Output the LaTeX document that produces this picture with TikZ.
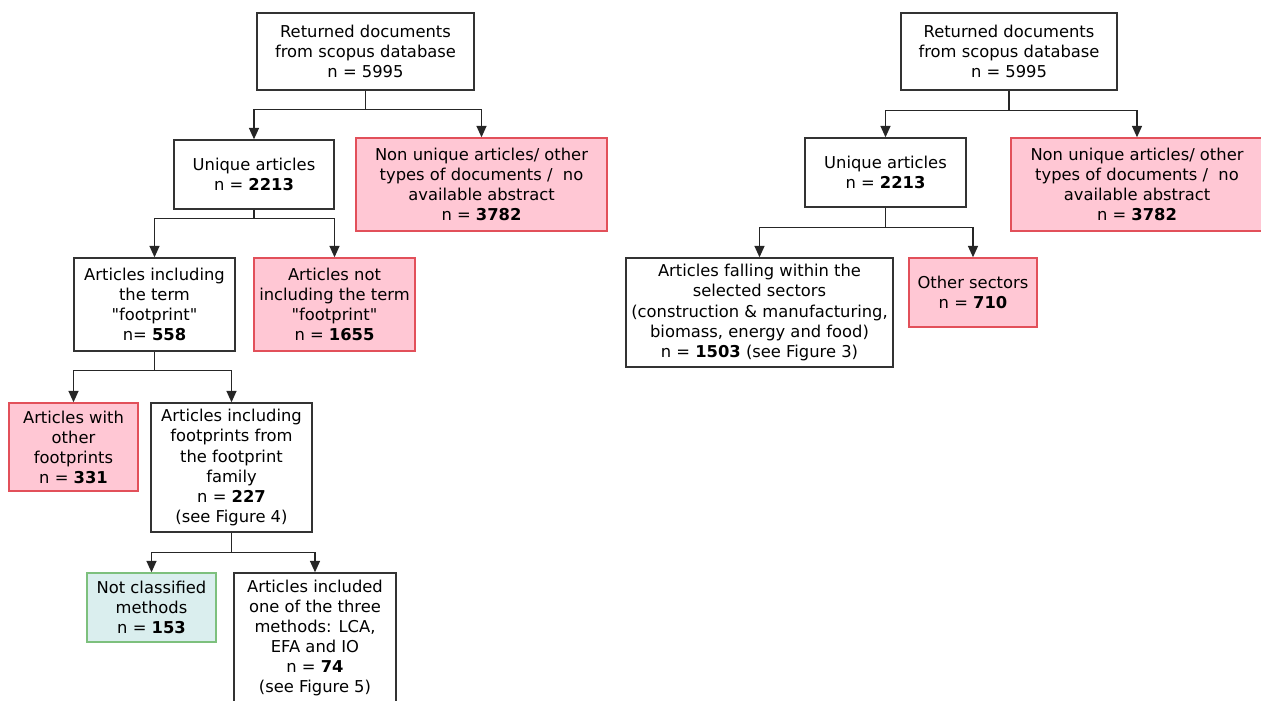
\documentclass[tikz,border=0pt]{standalone}
\usepackage{fontspec}
\setmainfont{DejaVu Sans}
\usetikzlibrary{arrows.meta}
\definecolor{badfill}{RGB}{255,199,212}
\definecolor{baddraw}{RGB}{226,80,90}
\definecolor{okfill}{RGB}{218,238,238}
\definecolor{okdraw}{RGB}{125,192,125}

\begin{document}
\begin{tikzpicture}[x=0.02cm, y=-0.02cm,
  box/.style={draw=black!80, line width=0.8pt, fill=white, align=center,
    inner sep=0pt, font=\fontsize{9.3}{11.4}\selectfont},
  outbox/.style={box, draw=baddraw, fill=badfill},
  greenbox/.style={box, draw=okdraw, fill=okfill},
  link/.style={line width=0.9pt, draw=black!85,
    -{Triangle[length=0.23cm, width=0.2cm]}}]
  \useasboundingbox (0,0) rectangle (1261,700);
  \clip (0,0) rectangle (1261,700);

  % left tree
  \node[box, minimum width=4.34cm, minimum height=1.54cm] (top) at (365.5,51.5)
    {Returned documents\\from scopus database\\n = 5995};
  \node[box, minimum width=3.2cm, minimum height=1.38cm] (uniq) at (254,174.5)
    {Unique articles\\n = \textbf{2213}};
  \node[outbox, minimum width=5.02cm, minimum height=1.86cm] (nonuniq) at (481.5,184.5)
    {Non unique articles/ other\\types of documents /\ \ no\\available abstract\\n = \textbf{3782}};
  \node[box, minimum width=3.22cm, minimum height=1.86cm] (fpterm) at (154.5,304.5)
    {Articles including\\the term\\\textquotedbl footprint\textquotedbl\\n= \textbf{558}};
  \node[outbox, minimum width=3.22cm, minimum height=1.86cm] (nofpterm) at (334.5,304.5)
    {Articles not\\including the term\\\textquotedbl footprint\textquotedbl\\n = \textbf{1655}};
  \node[outbox, minimum width=2.58cm, minimum height=1.76cm] (otherfp) at (73.5,447)
    {Articles with\\other\\footprints\\n = \textbf{331}};
  \node[box, minimum width=3.22cm, minimum height=2.58cm] (fpfamily) at (231.5,467.5)
    {Articles including\\footprints from\\the footprint\\family\\n = \textbf{227}\\(see Figure 4)};
  \node[greenbox, minimum width=2.58cm, minimum height=1.38cm] (notclass) at (151.5,607.5)
    {Not classified\\methods\\n = \textbf{153}};
  \node[box, minimum width=3.24cm, minimum height=2.6cm] (threemeth) at (315,638)
    {Articles included\\one of the three\\methods: LCA,\\EFA and IO\\n = \textbf{74}\\(see Figure 5)};

  \draw[link] (top.south) -- ++(0,19) -| (uniq.north);
  \draw[link] (top.south) -- ++(0,19) -| (nonuniq.north);
  \draw[link] (uniq.south) -- ++(0,9) -| (fpterm.north);
  \draw[link] (uniq.south) -- ++(0,9) -| (nofpterm.north);
  \draw[link] (fpterm.south) -- ++(0,19) -| (otherfp.north);
  \draw[link] (fpterm.south) -- ++(0,19) -| (fpfamily.north);
  \draw[link] (fpfamily.south) -- ++(0,20) -| (notclass.north);
  \draw[link] (fpfamily.south) -- ++(0,20) -| (threemeth.north);

  % right tree
  \node[box, minimum width=4.32cm, minimum height=1.54cm] (rtop) at (1009,51.5)
    {Returned documents\\from scopus database\\n = 5995};
  \node[box, minimum width=3.22cm, minimum height=1.38cm] (runiq) at (885.5,172.5)
    {Unique articles\\n = \textbf{2213}};
  \node[outbox, minimum width=5.04cm, minimum height=1.86cm] (rnonuniq) at (1137,184.5)
    {Non unique articles/ other\\types of documents /\ \ no\\available abstract\\n = \textbf{3782}};
  \node[box, minimum width=5.34cm, minimum height=2.18cm] (sectors) at (759.5,312.5)
    {Articles falling within the\\selected sectors\\(construction \& manufacturing,\\biomass, energy and food)\\n = \textbf{1503} (see Figure 3)};
  \node[outbox, minimum width=2.56cm, minimum height=1.38cm] (othersec) at (973,292.5)
    {Other sectors\\n = \textbf{710}};

  \draw[link] (rtop.south) -- ++(0,20) -| (runiq.north);
  \draw[link] (rtop.south) -- ++(0,20) -| (rnonuniq.north);
  \draw[link] (runiq.south) -- ++(0,20) -| (sectors.north);
  \draw[link] (runiq.south) -- ++(0,20) -| (othersec.north);
\end{tikzpicture}
\end{document}
